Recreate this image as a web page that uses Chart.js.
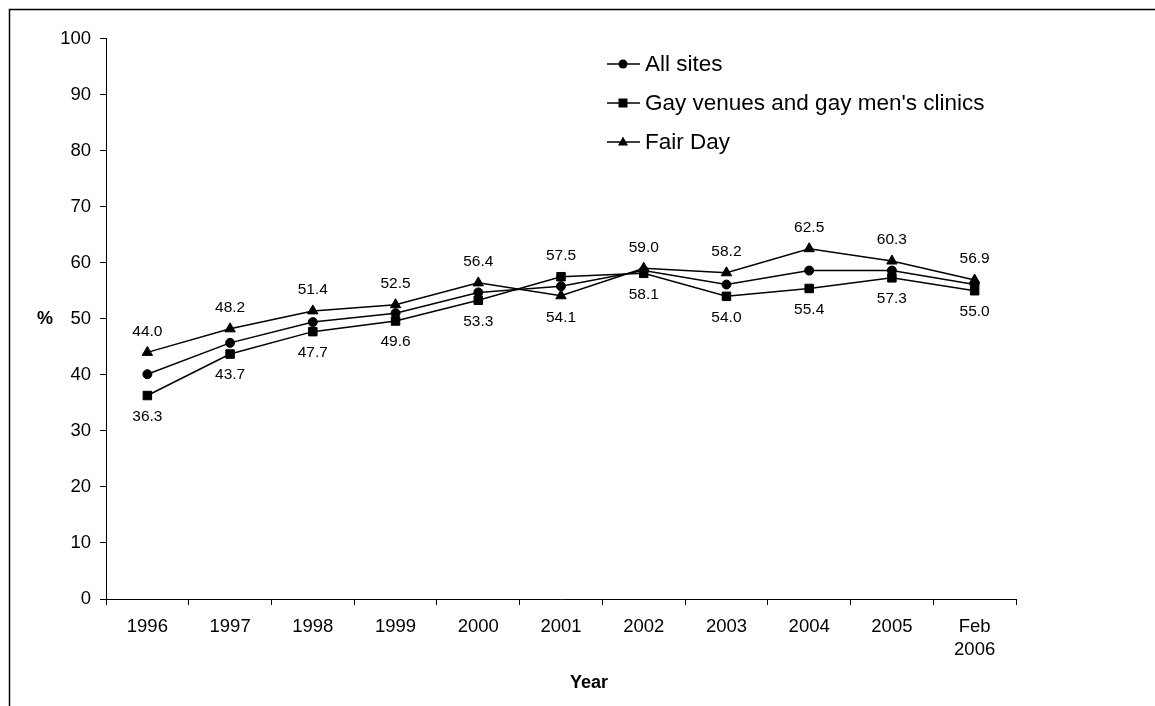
<!DOCTYPE html>
<html>
<head>
<meta charset="utf-8">
<script src="https://cdn.jsdelivr.net/npm/chart.js@4.4.0/dist/chart.umd.min.js"></script>
<style>
  html, body { margin:0; padding:0; background:#fff; }
  canvas { display:block; }
</style>
</head>
<body>
<canvas id="chart" width="1155" height="706"></canvas>
<script>
const years = ['1996','1997','1998','1999','2000','2001','2002','2003','2004','2005',['Feb','2006']];
const allSites = [40.1, 45.7, 49.4, 51.0, 54.7, 55.8, 58.6, 56.1, 58.6, 58.6, 56.1];
const gayVenues = [36.3, 43.7, 47.7, 49.6, 53.3, 57.5, 58.1, 54.0, 55.4, 57.3, 55.0];
const fairDay = [44.0, 48.2, 51.4, 52.5, 56.4, 54.1, 59.0, 58.2, 62.5, 60.3, 56.9];
const seriesNames = ['All sites', "Gay venues and gay men's clinics", 'Fair Day'];
const markers = ['circle', 'rect', 'triangle'];

const FONT = 'Arial, "Liberation Sans", sans-serif';

function drawMarker(ctx, style, x, y){
    ctx.beginPath();
    if(style==='circle'){ ctx.arc(x, y, 4.5, 0, Math.PI*2); }
    else if(style==='rect'){ ctx.rect(x-4.5, y-4.5, 9, 9); }
    else { ctx.moveTo(x, y-5.5); ctx.lineTo(x+5, y+3.5); ctx.lineTo(x-5, y+3.5); ctx.closePath(); }
    ctx.fill();
}

// frame, axis titles, legend, value labels
const extras = {
    id:'extras',
    beforeDraw(chart){
        const ctx = chart.ctx;
        ctx.save();
        ctx.strokeStyle = '#000';
        ctx.lineWidth = 1.5;
        ctx.beginPath();
        ctx.moveTo(9.5, 706); ctx.lineTo(9.5, 9.5); ctx.lineTo(1155, 9.5);
        ctx.stroke();
        ctx.restore();
    },
    afterDatasetsDraw(chart){
        const ctx = chart.ctx;
        ctx.save();
        ctx.fillStyle = '#000';
        ctx.textAlign = 'center';
        ctx.textBaseline = 'middle';

        // value labels: higher of the two labelled series above, lower below
        ctx.font = '15.5px ' + FONT;
        const gMeta = chart.getDatasetMeta(1).data;
        const fMeta = chart.getDatasetMeta(2).data;
        years.forEach((_, i) => {
            const fUp = fairDay[i] >= gayVenues[i];
            ctx.fillText(fairDay[i].toFixed(1), fMeta[i].x, fMeta[i].y + (fUp ? -21 : 22));
            ctx.fillText(gayVenues[i].toFixed(1), gMeta[i].x, gMeta[i].y + (fUp ? 21 : -21));
        });

        // axis titles
        ctx.font = 'bold 18px ' + FONT;
        ctx.fillText('%', 45, 319);
        ctx.fillText('Year', 589, 683);

        // legend
        ctx.font = '22.5px ' + FONT;
        ctx.textAlign = 'left';
        ctx.strokeStyle = '#000';
        ctx.lineWidth = 1.5;
        seriesNames.forEach((name, k) => {
            const y = 64 + k*39;
            ctx.beginPath(); ctx.moveTo(607, y); ctx.lineTo(640, y); ctx.stroke();
            drawMarker(ctx, markers[k], 623, y);
            ctx.fillText(name, 645, y + 1);
        });
        ctx.restore();
    }
};

const radii = { circle:4.5, rect:6, triangle:6 };
const mk = (label, data, style) => ({
    label, data,
    borderColor:'#000', backgroundColor:'#000', borderWidth:1.5,
    pointStyle:style, pointRadius:radii[style],
    pointBorderWidth:1, tension:0, fill:false
});

new Chart(document.getElementById('chart').getContext('2d'), {
    type:'line',
    data:{
        labels:years,
        datasets:[
            mk(seriesNames[0], allSites, 'circle'),
            mk(seriesNames[1], gayVenues, 'rect'),
            mk(seriesNames[2], fairDay, 'triangle')
        ]
    },
    options:{
        responsive:false,
        animation:false,
        devicePixelRatio:1,
        layout:{ padding:{ left:0, top:38.5, right:139, bottom:0 } },
        plugins:{ legend:{ display:false }, tooltip:{ enabled:false } },
        scales:{
            x:{
                offset:true,
                grid:{ offset:true, drawOnChartArea:false, drawTicks:true, tickLength:6, color:'#000' },
                border:{ color:'#000', width:1 },
                ticks:{ color:'#000', font:{ family:FONT, size:18.5, lineHeight:1.25 }, padding:10, maxRotation:0, autoSkip:false },
                afterFit(scale){ scale.height = 107; }
            },
            y:{
                min:0, max:100,
                grid:{ drawOnChartArea:false, drawTicks:true, tickLength:6, color:'#000' },
                border:{ color:'#000', width:1 },
                ticks:{ stepSize:10, color:'#000', font:{ family:FONT, size:18.5 }, padding:9 },
                afterFit(scale){ scale.width = 106; }
            }
        }
    },
    plugins:[extras]
});
</script>
</body>
</html>
